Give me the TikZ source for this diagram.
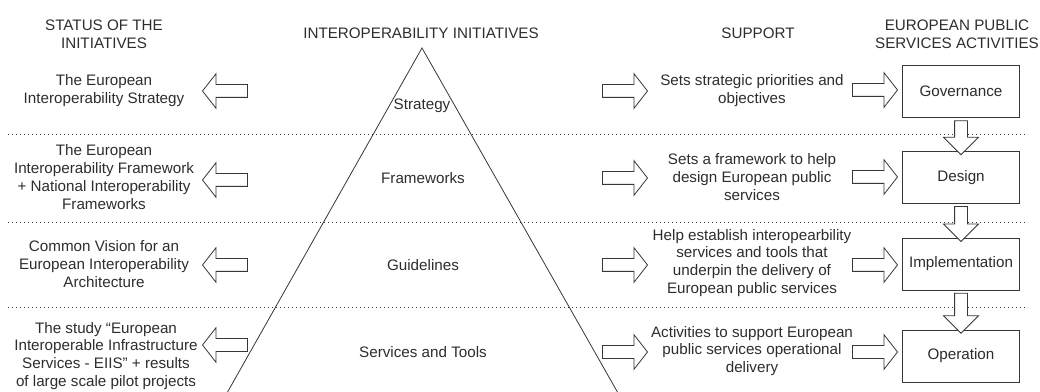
\documentclass[tikz,border=0pt]{standalone}
\usepackage{fontspec}
\setmainfont{Liberation Sans}
\usepackage{xcolor}
\usepackage{tikz}
\usetikzlibrary{shapes.arrows,positioning,calc}
\definecolor{inkgrey}{RGB}{45,45,45}
\definecolor{linegrey}{RGB}{55,55,55}
\tikzset{
  lbl/.style={font=\fontsize{11.4pt}{13.4pt}\selectfont, text=inkgrey,
              align=center, inner sep=0pt},
  actbox/.style={rectangle, draw=linegrey, fill=white, line width=0.6pt,
                 minimum width=87.75pt, minimum height=39pt, lbl},
  fatarr/.style={single arrow, draw=linegrey, fill=white, line width=0.6pt,
                 inner sep=4.5pt, minimum height=33.75pt, minimum width=25.5pt,
                 single arrow head extend=8.25pt, single arrow tip angle=104,
                 shape border rotate=#1},
  fatarr/.default=0,
  sepline/.style={draw=linegrey, line width=0.6pt, dash pattern=on 0.75pt off 2.25pt},
}

\begin{document}
\begin{tikzpicture}[x=0.75pt, y=-0.75pt]
        \useasboundingbox (0,0) rectangle (1040,392);

        % headers
        \node[lbl] (hstatus) at (104,34) {STATUS OF THE\\INITIATIVES};
        \node[lbl] (hinit) at (421,33) {INTEROPERABILITY INITIATIVES};
        \node[lbl] (hsupport) at (758,33) {SUPPORT};
        \node[lbl] (hact) at (957,34) {EUROPEAN PUBLIC\\SERVICES ACTIVITIES};

        % row separators
        \draw[sepline] (8,134) -- (1028,134);
        \draw[sepline] (8,222) -- (1028,222);
        \draw[sepline] (8,307) -- (1028,307);

        % pyramid
        \coordinate (apex) at (422,48);
        \draw[linegrey, line width=0.6pt] (227,393) -- (apex) -- (618,393);

        \node[lbl] (strat) at (422,106) {Strategy};
        \node[lbl] (frame) at (423,178) {Frameworks};
        \node[lbl] (guide) at (423,265) {Guidelines};
        \node[lbl] (servtools) at (423,352) {Services and Tools};

        % status of the initiatives
        \node[lbl] (st1) at (104,91)
              {The European\\Interoperability Strategy};
        \node[lbl] (st2) at (104,177)
              {The European\\Interoperability Framework\\+ National Interoperability\\Frameworks};
        \node[lbl] (st3) at (104,264)
              {Common Vision for an\\European Interoperability\\Architecture};
        \node[lbl] (st4) at (106,356)
              {The study ``European\\Interoperable Infrastructure\\Services - EIIS'' + results\\of large scale pilot projects};

        % support
        \node[lbl] (sup1) at (752,91)
              {Sets strategic priorities and\\objectives};
        \node[lbl] (sup2) at (752,177)
              {Sets a framework to help\\design European public\\services};
        \node[lbl] (sup3) at (752,263)
              {Help establish interopearbility\\services and tools that\\underpin the delivery of\\European public services};
        \node[lbl] (sup4) at (752,351)
              {Activities to support European\\public services operational\\delivery};

        % activities
        \node[actbox] (gov) at (961,91.5) {Governance};
        \node[actbox] (des) at (961,177.5) {Design};
        \node[actbox] (impl) at (961,264) {Implementation};
        \node[actbox] (oper) at (961,356) {Operation};

        % block arrows
        \node[fatarr=180] (la1) at (227.5,91) {};
        \node[fatarr=180] (la2) at (227.5,180) {};
        \node[fatarr=180] (la3) at (227.5,265) {};
        \node[fatarr=180] (la4) at (227.5,345) {};

        \node[fatarr] (ra1) at (622.5,91) {};
        \node[fatarr] (ra2) at (622.5,178) {};
        \node[fatarr] (ra3) at (622.5,265) {};
        \node[fatarr] (ra4) at (622.5,352) {};

        \node[fatarr] (aa1) at (872.5,90) {};
        \node[fatarr] (aa2) at (872.5,177) {};
        \node[fatarr] (aa3) at (872.5,265) {};
        \node[fatarr] (aa4) at (872.5,352) {};

        \node[fatarr=270, single arrow tip angle=90, minimum height=25.5pt]
              (da1) at ($(gov.south)!0.5!(des.north)$) {};
        \node[fatarr=270, single arrow tip angle=90, minimum height=26.25pt]
              (da2) at ($(des.south)!0.5!(impl.north)$) {};
        \node[fatarr=270, single arrow tip angle=90, minimum height=30pt]
              (da3) at ($(impl.south)!0.5!(oper.north)$) {};
      \end{tikzpicture}
\end{document}
